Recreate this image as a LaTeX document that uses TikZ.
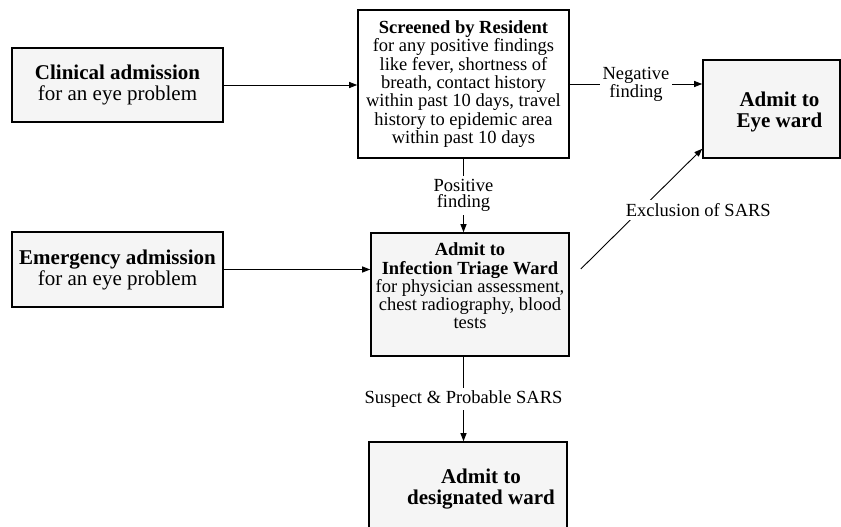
\documentclass[tikz,border=0pt]{standalone}
\usepackage{fontspec}
\setmainfont{Liberation Serif}
\usetikzlibrary{arrows.meta,calc}

\tikzset{
  box/.style={draw, line width=1.6pt, fill=black!4, align=center, inner sep=2pt},
  bigtext/.style={font=\fontsize{21}{21}\selectfont, align=center},
  smalltext/.style={font=\fontsize{18.5}{18.3}\selectfont, align=center},
  lbl/.style={fill=white, align=center, inner sep=3pt, font=\fontsize{18.5}{16.7}\selectfont},
  flow/.style={line width=0.9pt, -{Triangle[length=8pt,width=6pt]}},
}

\begin{document}
\begin{tikzpicture}[x=1pt,y=-1pt]
\clip (0,0) rectangle (841,527);

% boxes
\node[box,bigtext,minimum width=211pt,minimum height=74pt] (clinical) at (117.5,85)
  {\textbf{Clinical admission}\\for an eye problem};
\node[box,bigtext,minimum width=211pt,minimum height=75pt] (emergency) at (117.5,269.5)
  {\textbf{Emergency admission}\\for an eye problem};
\node[box,smalltext,fill=white,minimum width=211pt,minimum height=148pt] (screened) at (463.5,84)
  {\textbf{Screened by Resident}\\for any positive findings\\like fever, shortness of\\breath, contact history\\within past 10 days, travel\\history to epidemic area\\within past 10 days};

\node[box,minimum width=137pt,minimum height=98pt] (eyeward) at (771.5,109) {};
\node[bigtext] (eyewardtext) at ($(eyeward.center)+(8,2.5)$) {\textbf{Admit to}\\\textbf{Eye ward}};

\node[box,minimum width=198pt,minimum height=123pt] (triage) at (470,294.5) {};
\node[smalltext] (triagetext) at ($(triage.center)+(0,-8.5)$)
  {\textbf{Admit to}\\\textbf{Infection Triage Ward}\\for physician assessment,\\chest radiography, blood\\tests};

\node[box,minimum width=198pt,minimum height=98pt] (designated) at (468,491) {};
\node[bigtext] (designatedtext) at ($(designated.center)+(13,-1.5)$) {\textbf{Admit to}\\\textbf{designated ward}};

% connectors
\draw[flow] (clinical) -- (clinical -| screened.west);
\draw[flow] (emergency) -- (emergency -| triage.west);
\draw[flow] (screened) -- node[lbl]{Negative\\finding} (screened -| eyeward.west);
\draw[flow] (screened) -- node[lbl]{Positive\\finding} (screened |- triage.north);
\draw[flow] (screened |- triage.south) -- node[lbl]{Suspect \& Probable SARS} (screened |- designated.north);

\coordinate (exstart) at ($(triage.east)+(11,-25.5)$);
\coordinate (exend) at ($(eyeward.south west)+(0,-10)$);
\draw[flow] (exstart) -- node[lbl,pos=0.49,xshift=58pt]{Exclusion of SARS} (exend);

\end{tikzpicture}
\end{document}
